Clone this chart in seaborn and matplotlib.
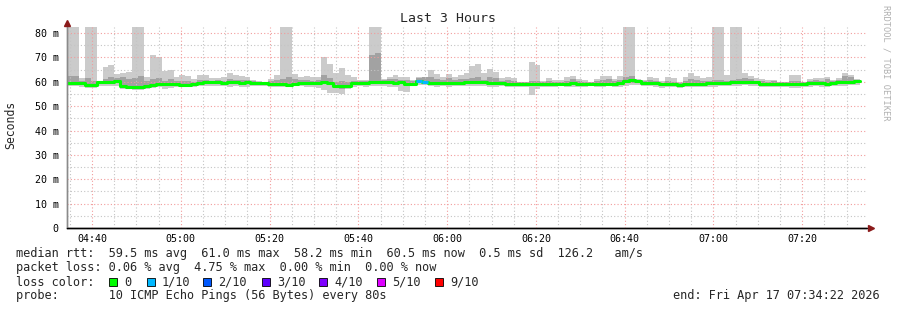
import numpy as np
import pandas as pd
import matplotlib
matplotlib.use("Agg")
import matplotlib.pyplot as plt
import matplotlib.dates as mdates
from matplotlib.patches import Rectangle
from matplotlib.ticker import FuncFormatter, MultipleLocator
import seaborn as sns

# ---------------- data ----------------
start_time = "2026-04-17 04:34:22"
end_time = "2026-04-17 07:34:22"
step_seconds = 80

# largest ping per 80 s step (ms); 90 = beyond top of graph (clipped)
ping_max = [90, 90, 61.4, 90, 90, 60.5, 66.1, 67.0, 63.1, 63.5,
            64.0, 90, 90, 62.0, 70.9, 70.1, 64.5, 64.7, 62.0, 63.0,
            62.3, 61.2, 62.8, 62.8, 61.4, 61.4, 62.0, 63.5, 62.8, 62.4,
            62.0, 60.6, 60.4, 60.1, 61.0, 62.8, 90, 90, 63.1, 62.0,
            62.3, 61.8, 62.0, 70.1, 67.2, 63.5, 65.6, 63.0, 61.9, 60.8,
            60.6, 90, 90, 61.0, 62.1, 63.0, 62.1, 62.1, 60.8, 62.1,
            62.1, 64.7, 63.4, 62.1, 63.4, 62.0, 62.8, 63.5, 66.3, 67.2,
            63.5, 65.2, 64.0, 61.4, 62.0, 61.4, 60.1, 60.1, 68.2, 66.8,
            60.4, 61.4, 60.6, 60.6, 62.1, 62.4, 61.0, 60.6, 60.1, 61.0,
            62.5, 62.4, 61.0, 62.4, 90, 90, 61.0, 60.6, 62.0, 61.4,
            60.4, 62.0, 61.4, 60.1, 62.0, 63.5, 62.5, 61.4, 62.0, 90,
            90, 63.0, 90, 90, 63.8, 62.4, 61.4, 61.0, 60.6, 60.6,
            60.1, 60.1, 62.8, 62.8, 60.1, 61.0, 61.4, 61.4, 62.0, 60.6,
            61.7, 63.8, 62.8, 61.0]

# upper inner smoke (ms)
ping_hi2 = [62.5, 62.2, 60.5, 61.5, 60.2, 60.3, 61.0, 62.0, 61.5, 61.8,
            61.0, 61.5, 62.5, 60.5, 61.0, 61.5, 60.5, 61.0, 60.3, 60.5,
            60.2, 60.0, 60.6, 60.8, 60.5, 60.6, 60.5, 61.0, 60.8, 60.6,
            60.6, 60.2, 60.0, 60.0, 60.2, 60.8, 61.0, 61.8, 61.2, 60.6,
            60.8, 60.5, 60.8, 63.0, 61.5, 59.8, 60.5, 60.0, 60.4, 60.2,
            60.2, 70.9, 72.0, 60.6, 61.0, 61.2, 60.6, 60.8, 60.3, 61.5,
            62.0, 62.1, 61.0, 60.8, 61.5, 60.6, 61.0, 61.0, 61.5, 61.8,
            60.8, 62.0, 61.5, 60.5, 60.6, 60.3, 59.8, 59.8, 60.5, 60.5,
            59.8, 60.2, 59.9, 60.0, 60.5, 61.0, 60.2, 60.0, 59.8, 60.2,
            60.6, 61.0, 60.3, 60.6, 62.0, 62.5, 60.8, 60.3, 60.6, 60.2,
            59.6, 60.4, 60.1, 59.6, 60.5, 61.0, 60.8, 60.2, 60.4, 60.8,
            60.8, 60.4, 60.6, 61.0, 61.5, 61.0, 60.4, 60.3, 60.0, 60.2,
            59.8, 59.8, 60.4, 60.5, 59.8, 60.3, 60.6, 60.5, 61.2, 60.2,
            60.8, 62.5, 62.0, 60.6]

# median rtt (ms)
median_rtt = [59.5, 59.5, 59.4, 58.8, 58.8, 59.8, 59.9, 60.0, 60.2, 58.3,
              58.0, 57.9, 58.0, 58.4, 58.8, 58.9, 59.2, 59.1, 59.3, 58.8,
              58.7, 58.9, 59.7, 59.8, 59.9, 59.8, 59.7, 59.8, 59.9, 59.7,
              59.8, 59.5, 59.4, 59.5, 59.0, 59.1, 58.9, 58.8, 59.0, 59.6,
              59.7, 59.5, 59.6, 59.8, 59.7, 58.3, 58.1, 58.3, 59.6, 59.5,
              59.6, 60.0, 60.1, 59.9, 59.8, 59.7, 59.9, 59.0, 58.9, 60.2,
              60.1, 59.7, 59.6, 59.7, 59.5, 59.6, 59.7, 59.9, 60.0, 59.9,
              60.0, 59.6, 59.5, 59.7, 59.2, 59.1, 59.2, 59.1, 59.0, 59.1,
              58.9, 59.0, 59.2, 59.3, 59.2, 59.4, 59.2, 59.2, 59.3, 59.1,
              59.2, 59.3, 59.2, 59.4, 60.3, 60.7, 60.5, 59.7, 59.6, 59.5,
              59.0, 58.9, 59.0, 58.8, 59.0, 59.2, 59.3, 59.2, 59.4, 59.6,
              59.7, 59.5, 59.8, 60.0, 60.1, 59.9, 59.8, 59.3, 59.2, 59.3,
              59.2, 59.3, 59.0, 58.9, 59.1, 59.4, 59.5, 59.4, 59.3, 59.5,
              59.8, 59.9, 60.0, 60.2]

# lower inner smoke (ms)
ping_lo2 = [58.8, 58.9, 58.7, 58.2, 58.1, 59.0, 59.1, 59.2, 59.4, 57.6,
            57.4, 57.3, 57.4, 57.8, 58.2, 58.3, 58.5, 58.3, 58.6, 58.2,
            58.1, 58.3, 59.0, 59.1, 59.2, 59.1, 59.0, 59.0, 59.2, 59.0,
            59.1, 58.9, 58.9, 58.9, 58.4, 58.5, 58.3, 58.3, 58.5, 59.0,
            59.0, 58.9, 58.9, 58.9, 58.8, 57.5, 57.2, 57.6, 59.0, 58.9,
            58.9, 59.4, 59.4, 59.3, 59.1, 59.0, 59.0, 58.2, 58.3, 59.5,
            59.4, 59.0, 58.9, 59.0, 58.8, 58.9, 59.0, 59.3, 59.3, 59.2,
            59.3, 58.9, 58.8, 59.0, 58.6, 58.5, 58.6, 58.5, 58.1, 58.4,
            58.3, 58.4, 58.6, 58.7, 58.6, 58.7, 58.6, 58.6, 58.7, 58.5,
            58.6, 58.7, 58.6, 58.7, 59.4, 59.6, 59.7, 59.0, 58.9, 58.9,
            58.4, 58.3, 58.4, 58.2, 58.4, 58.6, 58.6, 58.6, 58.7, 59.0,
            59.0, 58.9, 59.1, 59.3, 59.4, 59.2, 59.1, 58.7, 58.6, 58.6,
            58.6, 58.7, 58.4, 58.3, 58.5, 58.8, 58.8, 58.8, 58.7, 58.9,
            59.1, 59.2, 59.3, 59.5]

# smallest ping per step (ms)
ping_min = [58.3, 58.3, 58.0, 57.6, 57.6, 58.3, 58.3, 58.4, 58.3, 57.0,
            56.9, 56.8, 56.8, 57.2, 57.6, 57.8, 57.2, 57.4, 58.0, 58.0,
            57.8, 58.0, 58.2, 58.3, 58.4, 58.2, 58.3, 58.0, 58.2, 58.0,
            58.0, 58.2, 58.4, 58.3, 58.0, 57.8, 58.0, 58.2, 58.2, 58.3,
            58.0, 58.0, 57.6, 56.6, 55.6, 55.3, 55.1, 56.9, 58.0, 58.2,
            57.7, 58.4, 58.2, 58.3, 58.0, 57.8, 56.2, 56.0, 58.3, 58.6,
            58.6, 58.2, 58.0, 58.2, 58.0, 58.2, 58.3, 58.4, 58.3, 58.2,
            58.4, 58.0, 57.8, 58.2, 58.0, 57.9, 58.0, 57.8, 54.6, 57.2,
            57.8, 58.0, 58.0, 58.2, 58.0, 58.0, 58.0, 58.0, 58.1, 57.9,
            58.0, 58.2, 58.0, 58.0, 58.4, 58.6, 58.8, 58.3, 58.2, 58.0,
            57.6, 57.7, 57.8, 57.6, 57.7, 57.8, 57.8, 57.9, 58.0, 58.0,
            58.2, 58.2, 58.3, 58.4, 58.6, 58.4, 58.3, 58.0, 57.9, 57.8,
            58.0, 58.0, 57.6, 57.6, 57.8, 58.0, 58.1, 58.0, 58.0, 58.2,
            58.3, 58.3, 58.5, 58.6]

# lost pings out of 10 per step
loss_count = [0] * 59 + [1, 1] + [0] * 73

loss_labels = ["0", "1/10", "2/10", "3/10", "4/10", "5/10", "9/10"]
loss_colors = ["#00ff00", "#00b8ff", "#0059ff", "#5e00ff", "#7e00ff", "#dd00ff", "#ff0000"]
loss_levels = [0, 1, 2, 3, 4, 5, 9]

y_ticks = [0, 10, 20, 30, 40, 50, 60, 70, 80]

legend_rtt = "median rtt:  59.5 ms avg  61.0 ms max  58.2 ms min  60.5 ms now  0.5 ms sd  126.2   am/s"
legend_loss = "packet loss: 0.06 % avg  4.75 % max  0.00 % min  0.00 % now"
legend_probe = "probe:       10 ICMP Echo Pings (56 Bytes) every 80s"
legend_end = "end: Fri Apr 17 07:34:22 2026"
title_text = "Last 3 Hours"

# ---------------- drawing ----------------
sns.set_style("white")
plt.rcParams['font.family'] = ['DejaVu Sans Mono', 'DejaVu Sans']

W, H = 897, 310
fig = plt.figure(figsize=(W / 100, H / 100), dpi=100)
fig.patch.set_facecolor("white")

def px(x, y):
    return x / W, 1 - y / H

L, R, T, B = 67, 866, 27, 228
ax = fig.add_axes([L / W, 1 - B / H, (R - L) / W, (B - T) / H])
ax.set_facecolor("white")

t0 = pd.Timestamp(start_time)
t1 = pd.Timestamp(end_time)
n = len(median_rtt)
edges = (t0 + pd.to_timedelta(np.arange(n + 1) * step_seconds, unit="s")).to_pydatetime()

def ext(a):
    a = np.asarray(a, dtype=float)
    return np.append(a, a[-1])

mx, hi2, md, lo2, mn = map(ext, (ping_max, ping_hi2, median_rtt, ping_lo2, ping_min))

ax.fill_between(edges, mn, mx, step="post", color="#cbcbcb", lw=0, zorder=1)
ax.fill_between(edges, lo2, hi2, step="post", color="#a2a2a2", lw=0, zorder=1.2)

df = pd.DataFrame({"time": edges, "median": md})
sns.lineplot(data=df, x="time", y="median", drawstyle="steps-post", color=loss_colors[0],
             lw=2.2, ax=ax, zorder=3, sort=False)
for i, lc in enumerate(loss_count):
    if lc > 0:
        col = loss_colors[loss_levels.index(lc)]
        ax.plot([edges[i], edges[i + 1]], [median_rtt[i], median_rtt[i]], color=col,
                lw=2.2, solid_capstyle="butt", zorder=3.5)

ax.set_xlim(t0, t1)
ax.set_ylim(0, 82.5)
ax.set_xlabel("")
ax.set_ylabel("")

ax.xaxis.set_major_locator(mdates.MinuteLocator(byminute=[0, 20, 40]))
ax.xaxis.set_minor_locator(mdates.MinuteLocator(byminute=range(0, 60, 5)))
ax.xaxis.set_major_formatter(mdates.DateFormatter("%H:%M"))
ax.set_yticks(y_ticks)
ax.yaxis.set_minor_locator(MultipleLocator(5))
ax.yaxis.set_major_formatter(FuncFormatter(lambda v, p: "0" if v == 0 else f"{int(v)} m"))

ax.grid(which="major", color="#f29c9c", ls=(0, (1, 2)), lw=0.8, zorder=2.5)
ax.grid(which="minor", color="#c4c4c4", ls=(0, (1, 2)), lw=0.8, zorder=2.5)
ax.set_axisbelow(False)

ax.tick_params(axis="both", which="both", length=0, labelsize=7.2, colors="#000000")
ax.tick_params(axis="y", pad=6)
ax.tick_params(axis="x", pad=4)

for s in ("top", "right"):
    ax.spines[s].set_visible(False)
ax.spines["left"].set_color("#8a8a8a")
ax.spines["left"].set_linewidth(1.0)
ax.spines["bottom"].set_color("#000000")
ax.spines["bottom"].set_linewidth(1.0)

# axis arrows
ax.plot([0, 0], [0, 1.02], color="#8a8a8a", lw=1.0, transform=ax.transAxes, clip_on=False, zorder=4)
ax.plot([0, 1.005], [0, 0], color="#000000", lw=1.0, transform=ax.transAxes, clip_on=False, zorder=4)
ax.plot([0], [1.02], marker="^", color="#8b1a1a", ms=4.5, transform=ax.transAxes, clip_on=False, zorder=5)
ax.plot([1.006], [0], marker=">", color="#8b1a1a", ms=4.5, transform=ax.transAxes, clip_on=False, zorder=5)

# texts
fig.text(*px(448, 19), title_text, ha="center", va="center", fontsize=9.5)
fig.text(*px(11, 125), "Seconds", ha="center", va="center", rotation=90, fontsize=8.3)
fig.text(*px(886, 5), "RRDTOOL / TOBI OETIKER", ha="center", va="top", rotation=270,
         fontsize=6.2, color="#b0b0b0")

fs = 8.55
fig.text(*px(16, 254), legend_rtt, ha="left", va="center", fontsize=fs)
fig.text(*px(16, 268), legend_loss, ha="left", va="center", fontsize=fs)
fig.text(*px(16, 282), "loss color:", ha="left", va="center", fontsize=fs)
fig.text(*px(16, 296), legend_probe, ha="left", va="center", fontsize=fs)
fig.text(*px(880, 296), legend_end, ha="right", va="center", fontsize=fs)

sq_x = [109, 147, 203, 262, 319, 377, 435]
for xs, lab, col in zip(sq_x, loss_labels, loss_colors):
    fig.patches.append(Rectangle(((xs) / W, 1 - 286 / H), 8 / W, 8 / H, transform=fig.transFigure,
                                 facecolor=col, edgecolor="black", lw=0.6))
    fig.text(*px(xs + 15, 282), lab, ha="left", va="center", fontsize=fs)

fig.savefig("out.png", dpi=100, facecolor="white")
